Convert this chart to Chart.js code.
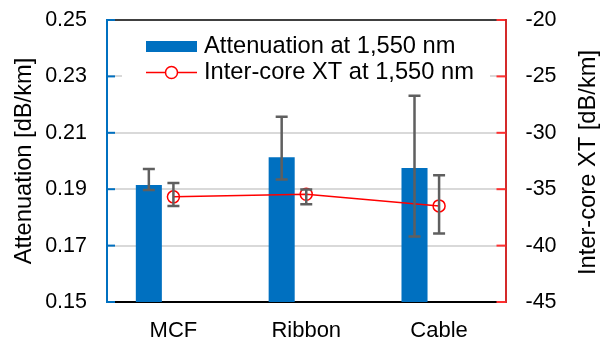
<!DOCTYPE html>
<html>
<head>
<meta charset="utf-8">
<script src="https://cdn.jsdelivr.net/npm/chart.js@4"></script>
<style>
  html, body { margin: 0; padding: 0; background: #fff; }
  canvas { display: block; }
</style>
</head>
<body>
<canvas id="xtChart" width="605" height="341"></canvas>
<script>
/* ================================
   Data
================================ */
const categories = ["MCF", "Ribbon", "Cable"];

const attenuation = [0.1915, 0.2013, 0.1975];
const attenuationLow = [0.1897, 0.1934, 0.1732];
const attenuationHigh = [0.1972, 0.2157, 0.2231];

const xt = [-35.68, -35.44, -36.48];
const xtLow = [-36.5, -36.33, -38.93];
const xtHigh = [-34.44, -35.03, -33.76];

const attTicks = [0.15, 0.17, 0.19, 0.21, 0.23, 0.25];
const xtTicks = [-45, -40, -35, -30, -25, -20];

const legendLabels = ["Attenuation at 1,550 nm", "Inter-core XT at 1,550 nm"];
const rightTitle = "Inter-core XT [dB/km]";

/* ================================
   Style
================================ */
const BLUE = "#0070c0";
const RED = "#ff0000";
const AXIS_RED = "#d42a2a";
const ERR_GREY = "#5f5f5f";
const FONT = "'Liberation Sans', Arial, sans-serif";

/* ================================
   Error bars + frame + legend
================================ */
function drawErrorBars(ctx, meta, yScale, lows, highs) {
  ctx.save();
  ctx.strokeStyle = ERR_GREY;
  ctx.lineWidth = 2.5;
  meta.data.forEach((el, i) => {
    const x = el.x;
    const yLo = yScale.getPixelForValue(lows[i]);
    const yHi = yScale.getPixelForValue(highs[i]);
    ctx.beginPath();
    ctx.moveTo(x, yLo);
    ctx.lineTo(x, yHi);
    ctx.moveTo(x - 6, yLo);
    ctx.lineTo(x + 6, yLo);
    ctx.moveTo(x - 6, yHi);
    ctx.lineTo(x + 6, yHi);
    ctx.stroke();
  });
  ctx.restore();
}

const decorPlugin = {
  id: "decor",
  afterDatasetsDraw(chart) {
    const { ctx, chartArea: a, scales } = chart;

    drawErrorBars(ctx, chart.getDatasetMeta(0), scales.y, attenuationLow, attenuationHigh);
    drawErrorBars(ctx, chart.getDatasetMeta(2), scales.y2, xtLow, xtHigh);

    // frame
    ctx.save();
    ctx.lineWidth = 1.5;
    ctx.strokeStyle = "#000";
    ctx.beginPath();
    ctx.moveTo(a.left, a.top);
    ctx.lineTo(a.right, a.top);
    ctx.stroke();

    // inward ticks
    ctx.lineWidth = 2;
    ctx.strokeStyle = BLUE;
    attTicks.forEach(v => {
      const y = scales.y.getPixelForValue(v);
      ctx.beginPath();
      ctx.moveTo(a.left, y);
      ctx.lineTo(a.left + 8, y);
      ctx.stroke();
    });
    ctx.strokeStyle = "#ff3030";
    xtTicks.forEach(v => {
      const y = scales.y2.getPixelForValue(v);
      ctx.beginPath();
      ctx.moveTo(a.right - 9, y);
      ctx.lineTo(a.right, y);
      ctx.stroke();
    });

    // legend
    ctx.fillStyle = "#fff";
    ctx.fillRect(122, 29, 368, 57);
    ctx.fillStyle = BLUE;
    ctx.fillRect(146, 41, 51, 11);
    ctx.strokeStyle = RED;
    ctx.lineWidth = 1.5;
    ctx.beginPath();
    ctx.moveTo(146, 72.5);
    ctx.lineTo(197, 72.5);
    ctx.stroke();
    ctx.fillStyle = "#fff";
    ctx.beginPath();
    ctx.arc(171.5, 72.5, 6, 0, Math.PI * 2);
    ctx.fill();
    ctx.stroke();
    ctx.fillStyle = "#000";
    ctx.font = "23.7px " + FONT;
    ctx.textBaseline = "middle";
    ctx.textAlign = "left";
    ctx.fillText(legendLabels[0], 204, 46.5);
    ctx.fillText(legendLabels[1], 204, 72.5);

    // right axis title, reading bottom to top
    ctx.translate(588, (a.top + a.bottom) / 2 + 1.5);
    ctx.rotate(-Math.PI / 2);
    ctx.textAlign = "center";
    ctx.font = "23.7px " + FONT;
    ctx.fillText(rightTitle, 0, 0);
    ctx.restore();
  }
};

// keep the plot box where the picture has it
function noPad(s) {
  s.paddingTop = 0;
  s.paddingBottom = 0;
  s.paddingLeft = 0;
  s.paddingRight = 0;
}

/* ================================
   Chart
================================ */
new Chart(document.getElementById("xtChart"), {
  data: {
    labels: categories,
    datasets: [
      {
        type: "bar",
        label: legendLabels[0],
        data: attenuation,
        backgroundColor: BLUE,
        yAxisID: "y",
        categoryPercentage: 0.74,
        barPercentage: 0.53,
        order: 2
      },
      {
        // empty slot so the bars sit left of the category centre
        type: "bar",
        label: "",
        data: [null, null, null],
        yAxisID: "y",
        categoryPercentage: 0.74,
        barPercentage: 0.53,
        order: 3
      },
      {
        type: "line",
        label: legendLabels[1],
        data: xt,
        yAxisID: "y2",
        borderColor: RED,
        borderWidth: 1.5,
        pointRadius: 6,
        pointBorderWidth: 1.5,
        pointBorderColor: RED,
        pointBackgroundColor: "rgba(0,0,0,0)",
        order: 1
      }
    ]
  },
  options: {
    responsive: false,
    animation: false,
    layout: { padding: { top: 20, left: 0, right: 0, bottom: 0 } },
    plugins: {
      legend: { display: false },
      tooltip: { enabled: false }
    },
    scales: {
      x: {
        grid: { display: false, drawTicks: false },
        border: { color: "#000", width: 2 },
        ticks: {
          color: "#000",
          font: { family: FONT, size: 22 },
          padding: 16
        },
        afterFit: s => { s.height = 39; noPad(s); }
      },
      y: {
        position: "left",
        min: 0.15,
        max: 0.25,
        afterBuildTicks: s => { s.ticks = attTicks.map(v => ({ value: v })); },
        grid: {
          color: ctx => (ctx.tick.value === 0.15 || ctx.tick.value === 0.25) ? "rgba(0,0,0,0)" : "#d9d9d9",
          lineWidth: 2,
          drawTicks: false
        },
        border: { color: BLUE, width: 2 },
        ticks: {
          color: "#000",
          font: { family: FONT, size: 21.5 },
          padding: 20,
          callback: v => Number(v).toFixed(2)
        },
        title: {
          display: true,
          text: "Attenuation [dB/km]",
          color: "#000",
          font: { family: FONT, size: 23.7, lineHeight: 1.2 },
          padding: { top: 10, bottom: 0 }
        },
        afterFit: s => { s.width = 107; noPad(s); }
      },
      y2: {
        position: "right",
        min: -45,
        max: -20,
        afterBuildTicks: s => { s.ticks = xtTicks.map(v => ({ value: v })); },
        grid: { drawOnChartArea: false, drawTicks: false },
        border: { color: AXIS_RED, width: 2 },
        ticks: {
          color: "#000",
          font: { family: FONT, size: 21.5 },
          padding: 20
        },
        afterFit: s => { s.width = 99.5; noPad(s); }
      }
    }
  },
  plugins: [decorPlugin]
});
</script>
</body>
</html>
